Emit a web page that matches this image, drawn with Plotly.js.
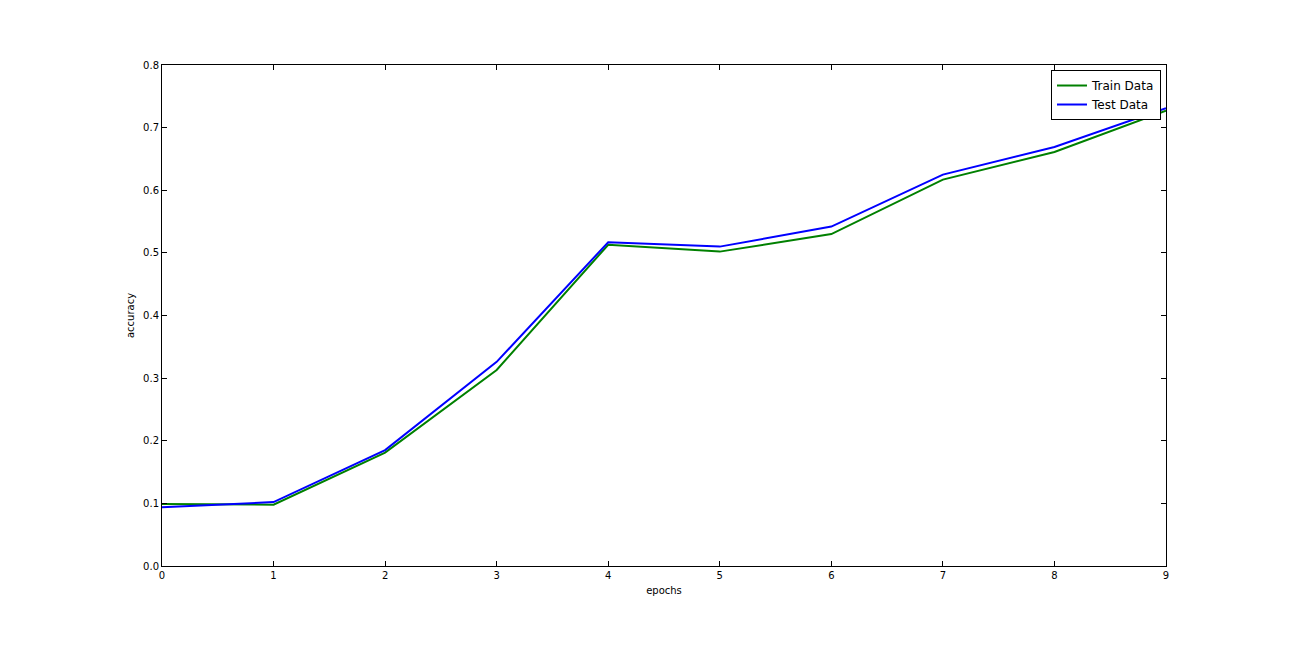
<!DOCTYPE html>
<html>
<head>
<meta charset="utf-8">
<script src="https://cdn.plot.ly/plotly-3.0.1.min.js"></script>
<style>html,body{margin:0;padding:0;background:#fff;}#chart{width:1296px;height:648px;}</style>
</head>
<body>
<div id="chart"></div>
<script>
const epochs = [0, 1, 2, 3, 4, 5, 6, 7, 8, 9];
const trainAcc = [0.099, 0.098, 0.181, 0.313, 0.513, 0.502, 0.530, 0.617, 0.661, 0.727];
const testAcc  = [0.094, 0.102, 0.185, 0.326, 0.517, 0.510, 0.542, 0.625, 0.669, 0.731];
const xTicks = [0, 1, 2, 3, 4, 5, 6, 7, 8, 9];
const yTicks = [0.0, 0.1, 0.2, 0.3, 0.4, 0.5, 0.6, 0.7, 0.8];

const traces = [
  {x: epochs, y: trainAcc, mode: 'lines', name: 'Train Data', line: {color: '#008000', width: 2}},
  {x: epochs, y: testAcc, mode: 'lines', name: 'Test Data', line: {color: '#0000ff', width: 2}}
];

const axisCommon = {
  showgrid: false, zeroline: false, showline: true, mirror: 'ticks',
  linecolor: '#000', linewidth: 1, ticks: 'inside', ticklen: 5, tickcolor: '#000',
  tickfont: {family: 'DejaVu Sans', size: 10, color: '#000'}
};

const layout = {
  width: 1296, height: 648,
  paper_bgcolor: '#fff', plot_bgcolor: '#fff',
  margin: {l: 162, r: 130, t: 65, b: 82},
  showlegend: true,
  legend: {x: 0.995, xanchor: 'right', y: 0.99, yanchor: 'top', bordercolor: '#000', borderwidth: 1,
           bgcolor: '#fff', font: {family: 'DejaVu Sans', size: 12, color: '#000'}},
  xaxis: Object.assign({}, axisCommon, {
    range: [0, 9], tickvals: xTicks, ticktext: xTicks.map(String),
    title: {text: 'epochs', font: {family: 'DejaVu Sans', size: 10, color: '#000'}, standoff: 6}
  }),
  yaxis: Object.assign({}, axisCommon, {
    range: [0, 0.8], tickvals: yTicks, ticktext: yTicks.map(v => v.toFixed(1)),
    title: {text: 'accuracy', font: {family: 'DejaVu Sans', size: 10, color: '#000'}, standoff: 6}
  })
};

Plotly.newPlot('chart', traces, layout, {displayModeBar: false, staticPlot: true});
</script>
</body>
</html>
